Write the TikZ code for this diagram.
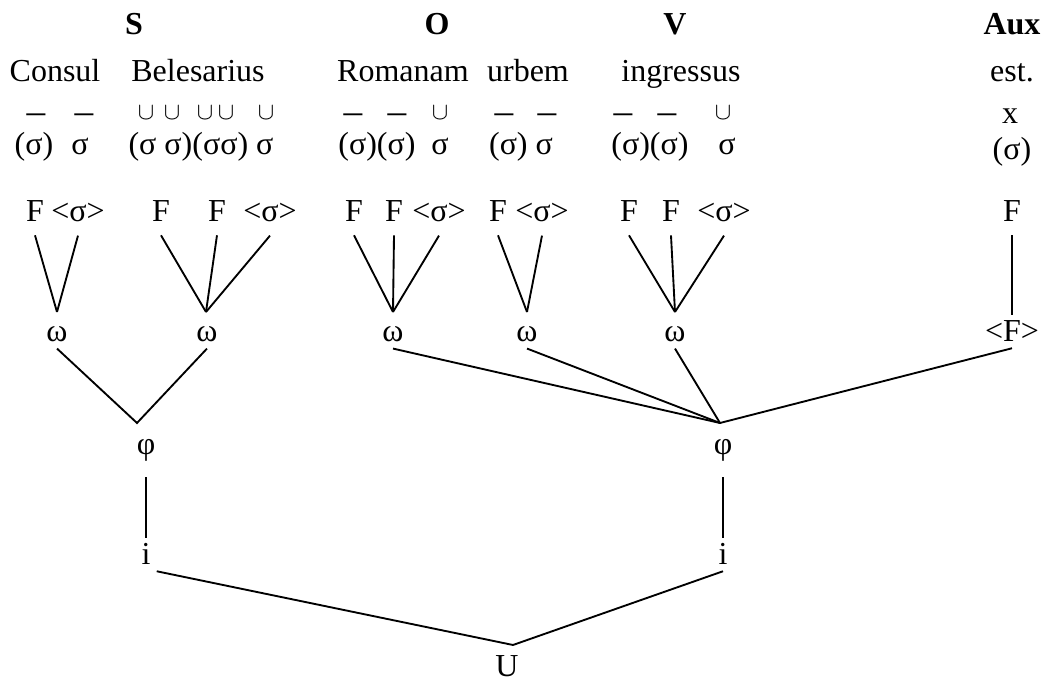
\documentclass[tikz,border=0pt]{standalone}
\usepackage{fontspec}
\setmainfont{Liberation Serif}
\tikzset{
  every node/.style={font=\fontsize{12}{14}\selectfont, inner sep=2pt, anchor=base},
  role/.style={font=\fontsize{12}{14}\selectfont\bfseries},
  longmark/.style={font=\fontsize{14}{16}\selectfont, inner sep=0pt},
  shortmark/.style={font=\small, inner sep=0pt},
  foot/.style={outer sep=3pt},
}
\begin{document}
\begin{tikzpicture}[x=0.375pt, y=-0.375pt, line width=0.7pt]
\useasboundingbox (0,0) rectangle (1041,682);

\node[role] (subj) at (134,35) {S};
\node[role] (obj)  at (437,35) {O};
\node[role] (verb) at (675,35) {V};
\node[role] (aux)  at (1012,35) {Aux};

\node (consul) at (55,82)   {Consul};
\node (beles)  at (198,82)  {Belesarius};
\node (roman)  at (403,82)  {Romanam};
\node (urbem)  at (528,82)  {urbem};
\node (ingr)   at (681,82)  {ingressus};
\node (est)    at (1012,82) {est.};

\foreach \x in {36,84,353,397,504,547,623,667}
  \node[longmark] (long\x) at (\x,124) {–};
\foreach \x in {146,172,205,226,266,440,723}
  \node[shortmark] (short\x) at (\x,120) {$\cup$};
\node (anceps) at (1010,124) {x};

\node (syl1) at (34,155)   {(σ)};
\node (syl2) at (80,155)   {σ};
\node (syl3) at (201,155)  {(σ σ)(σσ) σ};
\node (syl4) at (377,155)  {(σ)(σ)};
\node (syl5) at (440,155)  {σ};
\node (syl6) at (521,155)  {(σ) σ};
\node (syl7) at (650,155)  {(σ)(σ)};
\node (syl8) at (727,155)  {σ};
\node (syl9) at (1012,160) {(σ)};

%%%%%%%%%%%%%%%%%%%%%%%%%%%%%%%%%%%%%%%%

\foreach \n/\x/\t in {1/35/F, 2/78/<σ>, 3/161/F, 4/217/F, 5/270/<σ>,
    6/354/F, 7/394/F, 8/439/<σ>, 9/498/F, 10/542/<σ>,
    11/629/F, 12/671/F, 13/724/<σ>, 14/1012/F}
  \node[foot] (ft\n) at (\x,222) {\t};

\foreach \n/\x in {1/57, 2/207, 3/393, 4/527, 5/675}
  \node (wd\n) at (\x,342) {ω};
\node (clit) at (1012,342) {<F>};

\foreach \n/\x in {1/57, 2/206, 3/393, 4/527, 5/675}
  \path (\x,312) coordinate (join\n);

\foreach \f/\j in {1/1, 2/1, 3/2, 4/2, 5/2, 6/3, 7/3, 8/3, 9/4, 10/4, 11/5, 12/5, 13/5}
  \draw (ft\f.south) -- (join\j);
\draw (ft14.south) -- (clit.north);

\path (137,423) coordinate (phjoin1);
\path (720,423) coordinate (phjoin2);
\node (ph1) at (146,455) {φ};
\node (ph2) at (723,455) {φ};
\draw (wd1.south) -- (phjoin1) -- (wd2.south);
\draw (wd3.south) -- (phjoin2);
\draw (wd4.south) -- (phjoin2);
\draw (wd5.south) -- (phjoin2);
\draw (clit.south) -- (phjoin2);

\node (ip1) at (146,565) {i};
\node (ip2) at (723,565) {i};
\draw[shorten <=3.5pt] (ph1.south) -- (ip1.north);
\draw[shorten <=3.5pt] (ph2.south) -- (ip2.north);

\path (513,645) coordinate (utjoin);
\node (utt) at (507,677) {U};
\draw (ip1.south east) -- (utjoin) -- (ip2.south);

\end{tikzpicture}
\end{document}
